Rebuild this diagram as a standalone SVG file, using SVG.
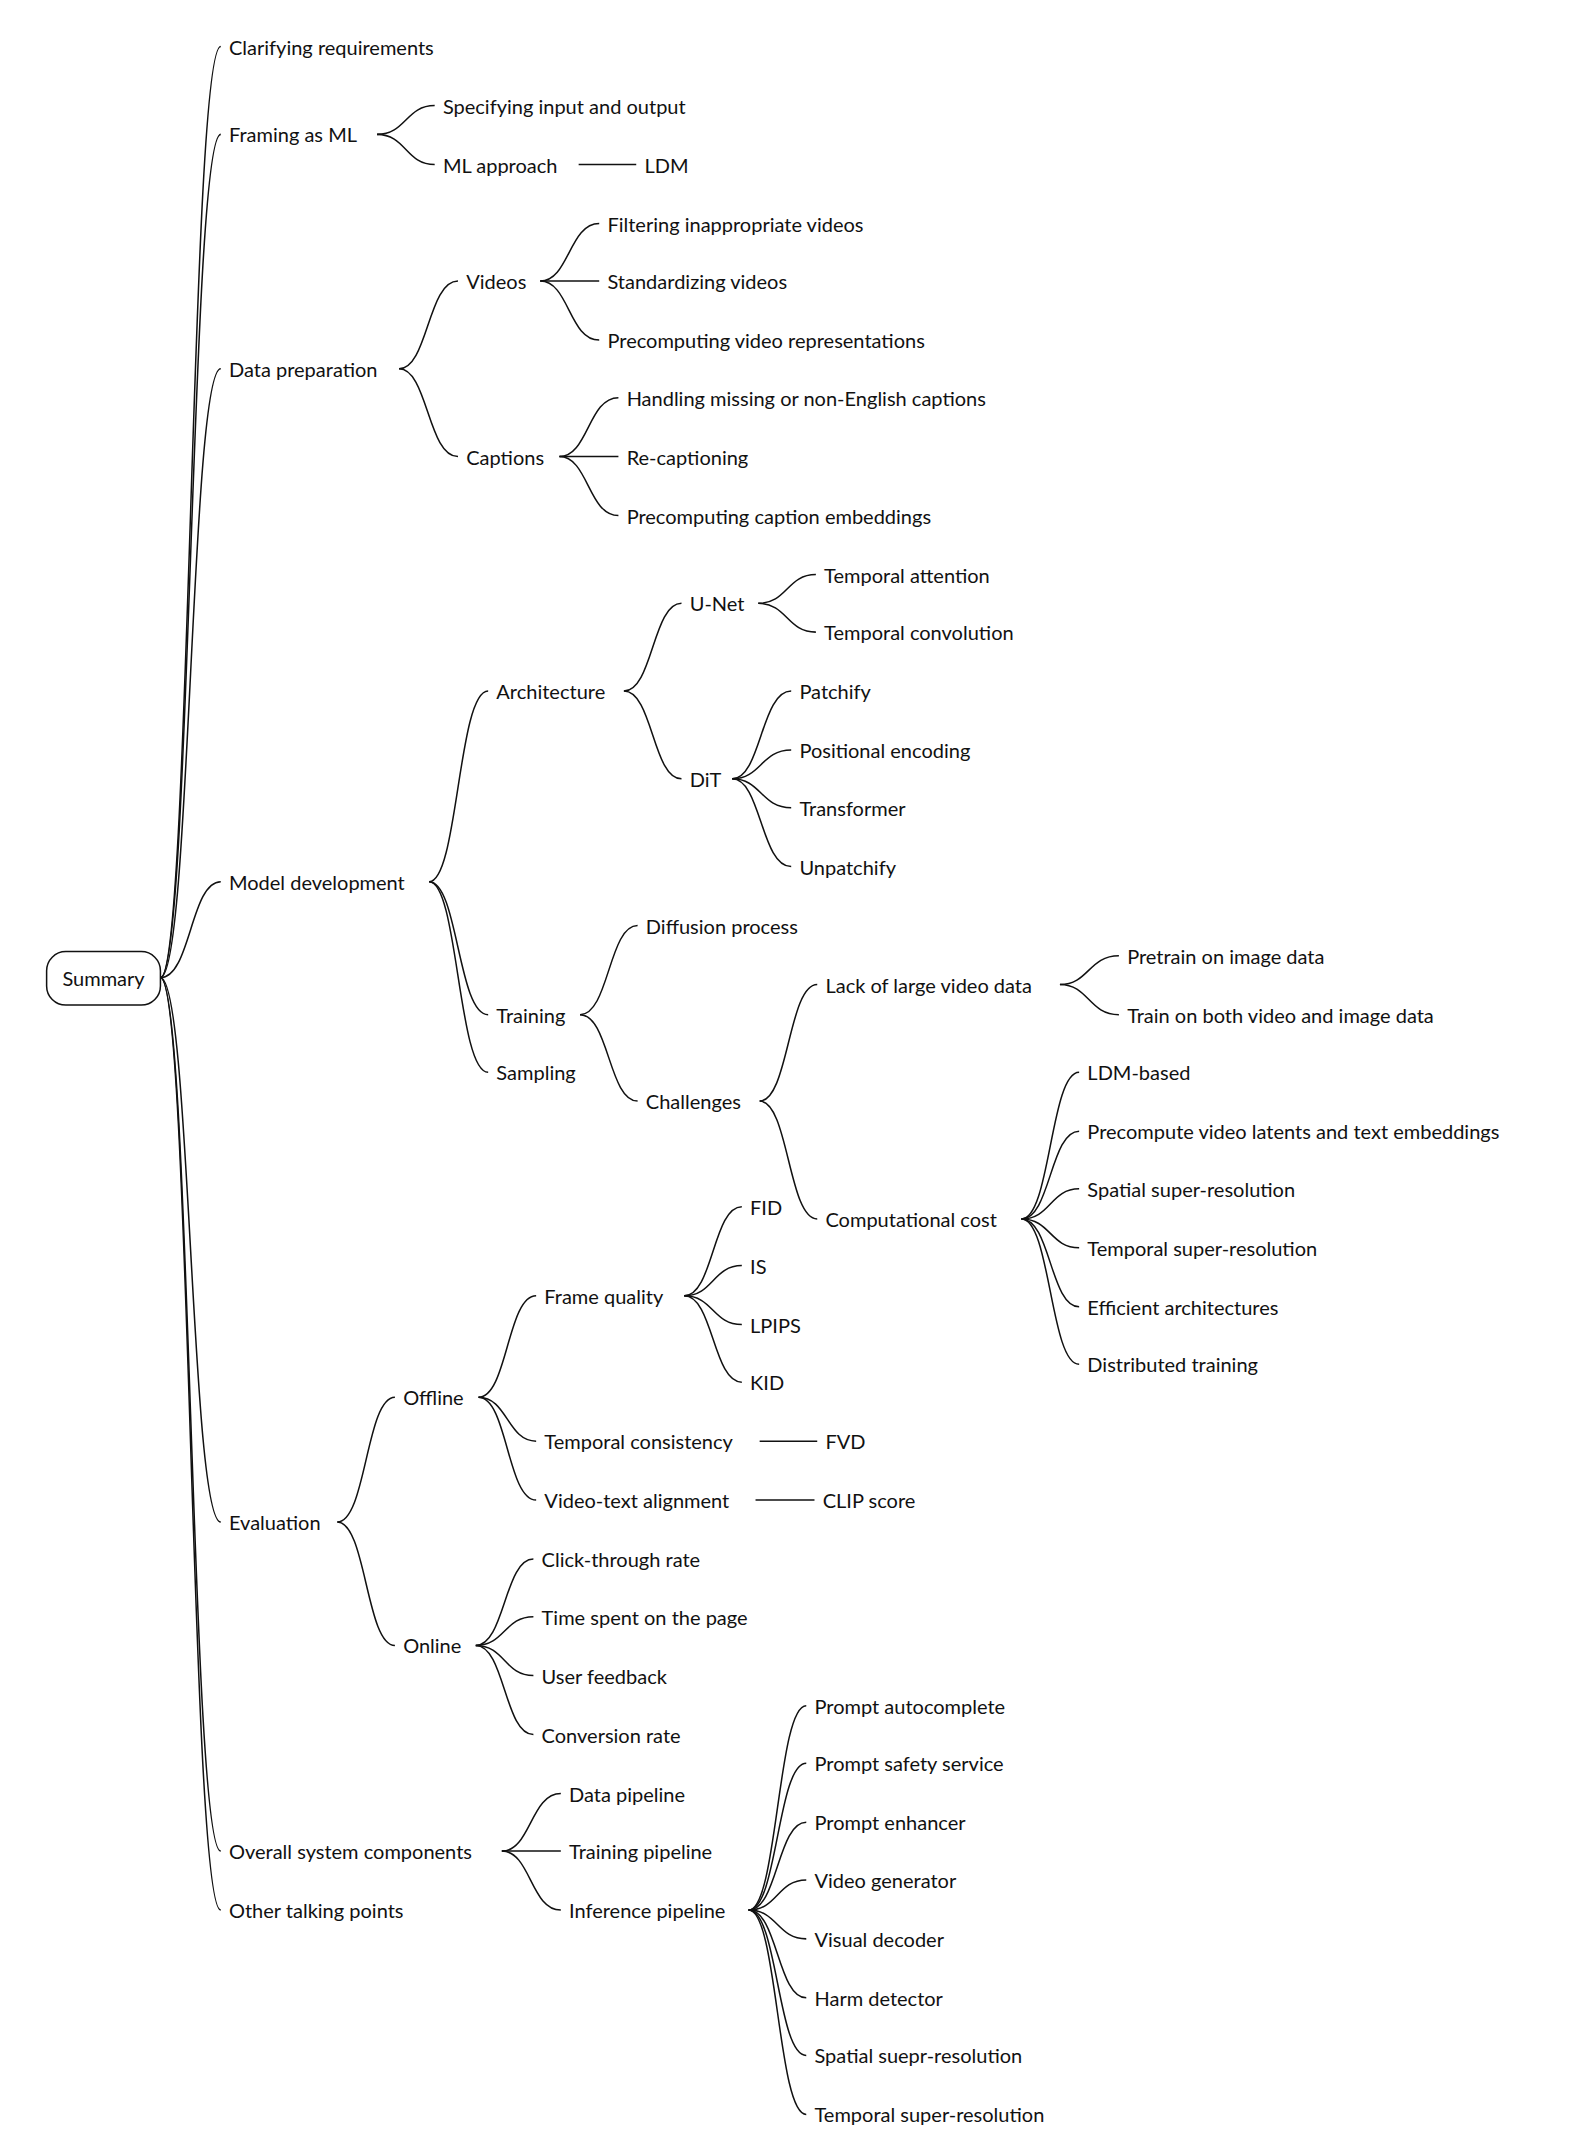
<svg xmlns="http://www.w3.org/2000/svg" width="1570" height="2150" viewBox="0 0 1570 2150">
<style>
text{font-family:Lato,"Noto Sans","Liberation Sans",sans-serif;font-size:14.6px;fill:#111;dominant-baseline:central}
.e path,.e line{fill:none;stroke:#111;stroke-width:1.1}
</style>
<rect width="1570" height="2150" fill="#fff"/>
<g transform="scale(1.3712)">
<g class="e" id="connectors">
<path d="M117 713C139 713 139 34 161 34"/><path d="M117 713C139 713 139 98 161 98"/><path d="M117 713C139 713 139 269 161 269"/><path d="M117 713C139 713 139 643 161 643"/><path d="M117 713C139 713 139 1110 161 1110"/><path d="M117 713C139 713 139 1350 161 1350"/><path d="M117 713C139 713 139 1393 161 1393"/>
<path d="M275 98C296 98 296 77 317 77"/><path d="M275 98C296 98 296 120 317 120"/>
<line x1="422" y1="120" x2="464" y2="120"/>
<path d="M291 269C312 269 312 205 334 205"/><path d="M291 269C312 269 312 333 334 333"/>
<path d="M394 205C415 205 415 163 437 163"/><path d="M394 205C415 205 415 205 437 205"/><path d="M394 205C415 205 415 248 437 248"/>
<path d="M408 333C429 333 429 290 451 290"/><path d="M408 333C429 333 429 333 451 333"/><path d="M408 333C429 333 429 376 451 376"/>
<path d="M313 643C334 643 334 504 356 504"/><path d="M313 643C334 643 334 740 356 740"/><path d="M313 643C334 643 334 782 356 782"/>
<path d="M455 504C476 504 476 440 497 440"/><path d="M455 504C476 504 476 568 497 568"/>
<path d="M553 440C574 440 574 419 595 419"/><path d="M553 440C574 440 574 461 595 461"/>
<path d="M534 568C555 568 555 504 577 504"/><path d="M534 568C555 568 555 547 577 547"/><path d="M534 568C555 568 555 589 577 589"/><path d="M534 568C555 568 555 632 577 632"/>
<path d="M423 740C444 740 444 675 465 675"/><path d="M423 740C444 740 444 803 465 803"/>
<path d="M554 803C575 803 575 718 596 718"/><path d="M554 803C575 803 575 889 596 889"/>
<path d="M773 718C794 718 794 697 816 697"/><path d="M773 718C794 718 794 740 816 740"/>
<path d="M745 889C766 889 766 782 787 782"/><path d="M745 889C766 889 766 825 787 825"/><path d="M745 889C766 889 766 867 787 867"/><path d="M745 889C766 889 766 910 787 910"/><path d="M745 889C766 889 766 953 787 953"/><path d="M745 889C766 889 766 995 787 995"/>
<path d="M246 1110C267 1110 267 1019 288 1019"/><path d="M246 1110C267 1110 267 1200 288 1200"/>
<path d="M349 1019C370 1019 370 945 391 945"/><path d="M349 1019C370 1019 370 1051 391 1051"/><path d="M349 1019C370 1019 370 1094 391 1094"/>
<path d="M499 945C520 945 520 880 541 880"/><path d="M499 945C520 945 520 923 541 923"/><path d="M499 945C520 945 520 966 541 966"/><path d="M499 945C520 945 520 1008 541 1008"/>
<line x1="554" y1="1051" x2="596" y2="1051"/><line x1="551" y1="1094" x2="594" y2="1094"/>
<path d="M347 1200C368 1200 368 1137 389 1137"/><path d="M347 1200C368 1200 368 1179 389 1179"/><path d="M347 1200C368 1200 368 1222 389 1222"/><path d="M347 1200C368 1200 368 1265 389 1265"/>
<path d="M366 1350C387 1350 387 1308 409 1308"/><path d="M366 1350C387 1350 387 1350 409 1350"/><path d="M366 1350C387 1350 387 1393 409 1393"/>
<path d="M546 1393C567 1393 567 1244 588 1244"/><path d="M546 1393C567 1393 567 1286 588 1286"/><path d="M546 1393C567 1393 567 1329 588 1329"/><path d="M546 1393C567 1393 567 1371 588 1371"/><path d="M546 1393C567 1393 567 1414 588 1414"/><path d="M546 1393C567 1393 567 1457 588 1457"/><path d="M546 1393C567 1393 567 1499 588 1499"/><path d="M546 1393C567 1393 567 1542 588 1542"/>
</g>
<g id="summary"><rect x="34" y="694" width="83" height="39" rx="14" fill="#fff" stroke="#111" stroke-width="1.1"/><text x="75.5" y="713" text-anchor="middle">Summary</text></g>
<g id="clarifying"><text x="167" y="34">Clarifying requirements</text></g>
<g id="framing"><text x="167" y="98">Framing as ML</text></g>
<g id="spec-io"><text x="323" y="77">Specifying input and output</text></g>
<g id="ml-approach"><text x="323" y="120">ML approach</text></g>
<g id="ldm"><text x="470" y="120">LDM</text></g>
<g id="data-prep"><text x="167" y="269">Data preparation</text></g>
<g id="videos"><text x="340" y="205">Videos</text></g>
<g id="filtering"><text x="443" y="163">Filtering inappropriate videos</text></g>
<g id="standardizing"><text x="443" y="205">Standardizing videos</text></g>
<g id="precomp-video"><text x="443" y="248">Precomputing video representations</text></g>
<g id="captions"><text x="340" y="333">Captions</text></g>
<g id="handling"><text x="457" y="290">Handling missing or non-English captions</text></g>
<g id="recaption"><text x="457" y="333">Re-captioning</text></g>
<g id="precomp-caption"><text x="457" y="376">Precomputing caption embeddings</text></g>
<g id="model-dev"><text x="167" y="643">Model development</text></g>
<g id="architecture"><text x="362" y="504">Architecture</text></g>
<g id="unet"><text x="503" y="440">U-Net</text></g>
<g id="temp-att"><text x="601" y="419">Temporal attention</text></g>
<g id="temp-conv"><text x="601" y="461">Temporal convolution</text></g>
<g id="dit"><text x="503" y="568">DiT</text></g>
<g id="patchify"><text x="583" y="504">Patchify</text></g>
<g id="posenc"><text x="583" y="547">Positional encoding</text></g>
<g id="transformer"><text x="583" y="589">Transformer</text></g>
<g id="unpatchify"><text x="583" y="632">Unpatchify</text></g>
<g id="training"><text x="362" y="740">Training</text></g>
<g id="sampling"><text x="362" y="782">Sampling</text></g>
<g id="diffusion"><text x="471" y="675">Diffusion process</text></g>
<g id="challenges"><text x="471" y="803">Challenges</text></g>
<g id="lack"><text x="602" y="718">Lack of large video data</text></g>
<g id="pretrain"><text x="822" y="697">Pretrain on image data</text></g>
<g id="trainboth"><text x="822" y="740">Train on both video and image data</text></g>
<g id="compcost"><text x="602" y="889">Computational cost</text></g>
<g id="ldm-based"><text x="793" y="782">LDM-based</text></g>
<g id="precompute-lat"><text x="793" y="825">Precompute video latents and text embeddings</text></g>
<g id="spatial-sr"><text x="793" y="867">Spatial super-resolution</text></g>
<g id="temporal-sr"><text x="793" y="910">Temporal super-resolution</text></g>
<g id="efficient"><text x="793" y="953">Efficient architectures</text></g>
<g id="distributed"><text x="793" y="995">Distributed training</text></g>
<g id="evaluation"><text x="167" y="1110">Evaluation</text></g>
<g id="offline"><text x="294" y="1019">Offline</text></g>
<g id="frame-quality"><text x="397" y="945">Frame quality</text></g>
<g id="fid"><text x="547" y="880">FID</text></g>
<g id="is"><text x="547" y="923">IS</text></g>
<g id="lpips"><text x="547" y="966">LPIPS</text></g>
<g id="kid"><text x="547" y="1008">KID</text></g>
<g id="temp-cons"><text x="397" y="1051">Temporal consistency</text></g>
<g id="fvd"><text x="602" y="1051">FVD</text></g>
<g id="vt-align"><text x="397" y="1094">Video-text alignment</text></g>
<g id="clip"><text x="600" y="1094">CLIP score</text></g>
<g id="online"><text x="294" y="1200">Online</text></g>
<g id="ctr"><text x="395" y="1137">Click-through rate</text></g>
<g id="time-spent"><text x="395" y="1179">Time spent on the page</text></g>
<g id="feedback"><text x="395" y="1222">User feedback</text></g>
<g id="conversion"><text x="395" y="1265">Conversion rate</text></g>
<g id="overall"><text x="167" y="1350">Overall system components</text></g>
<g id="other"><text x="167" y="1393">Other talking points</text></g>
<g id="data-pipe"><text x="415" y="1308">Data pipeline</text></g>
<g id="train-pipe"><text x="415" y="1350">Training pipeline</text></g>
<g id="inf-pipe"><text x="415" y="1393">Inference pipeline</text></g>
<g id="p-auto"><text x="594" y="1244">Prompt autocomplete</text></g>
<g id="p-safety"><text x="594" y="1286">Prompt safety service</text></g>
<g id="p-enh"><text x="594" y="1329">Prompt enhancer</text></g>
<g id="vgen"><text x="594" y="1371">Video generator</text></g>
<g id="vdec"><text x="594" y="1414">Visual decoder</text></g>
<g id="harm"><text x="594" y="1457">Harm detector</text></g>
<g id="i-spatial"><text x="594" y="1499">Spatial suepr-resolution</text></g>
<g id="i-temporal"><text x="594" y="1542">Temporal super-resolution</text></g>
</g>
</svg>
